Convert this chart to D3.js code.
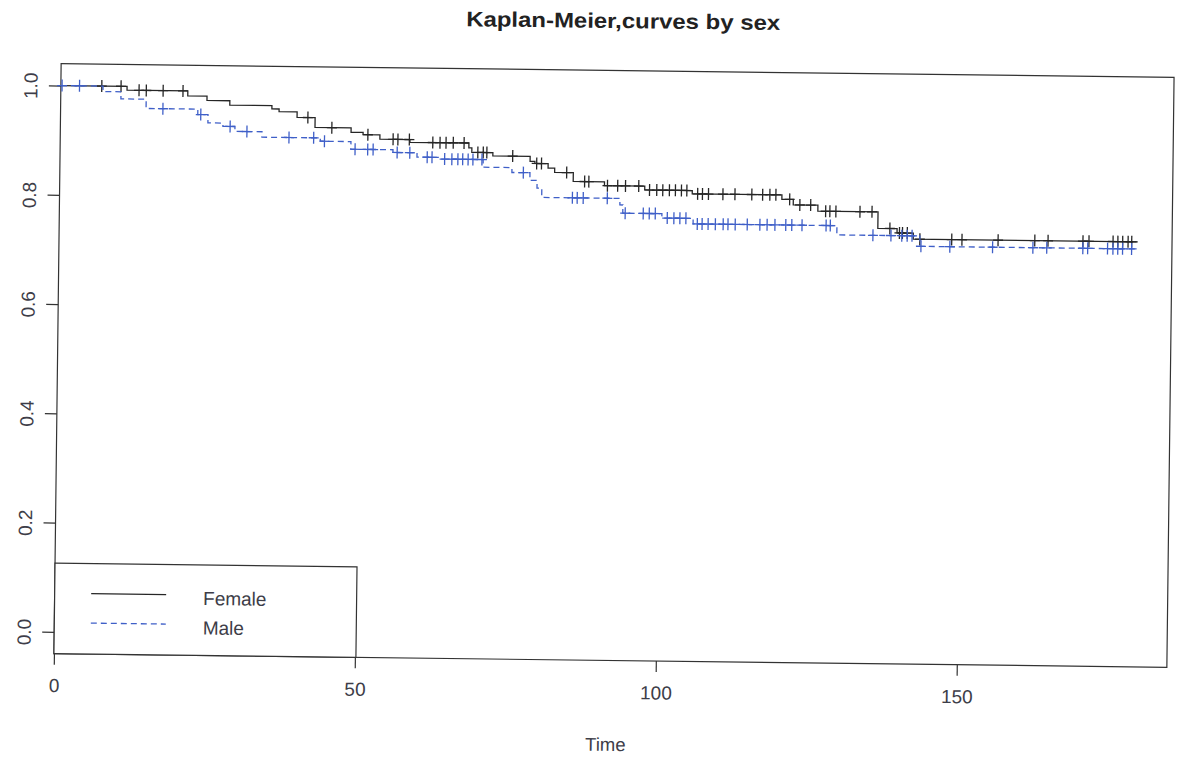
<!DOCTYPE html>
<html>
<head>
<meta charset="utf-8">
<script src="https://cdn.jsdelivr.net/npm/d3@7"></script>
<style>
  html, body { margin: 0; padding: 0; background: #fff; }
  svg { display: block; }
  text { font-family: "Liberation Sans", Arial, sans-serif; }
</style>
</head>
<body>
<div id="chart"></div>
<script>
// ---- data ----
const titleText = "Kaplan-Meier,curves by sex";
const xLabel = "Time";
const xTicks = [0, 50, 100, 150];
const yTicks = [0, 0.2, 0.4, 0.6, 0.8, 1.0];
const groups = ["Female", "Male"];

const femaleStepTime = [0, 11.0, 21.1, 24.3, 28.1, 35.1, 36.3, 39.3, 42.3, 48.3, 50.3, 53.1, 58.1, 67.9, 68.4, 71.9, 78.1, 78.9, 81.1, 82.2, 85.3, 90.5, 97.2, 105.1, 120.0, 121.9, 126.0, 136.0, 139.2, 141.9];
const femaleStepSurv = [1, 0.993, 0.984, 0.976, 0.968, 0.962, 0.957, 0.947, 0.929, 0.921, 0.917, 0.909, 0.904, 0.895, 0.887, 0.881, 0.872, 0.868, 0.860, 0.852, 0.836, 0.829, 0.822, 0.816, 0.808, 0.798, 0.787, 0.757, 0.749, 0.738];
const femaleEnd = 179.2;
const femaleCensor = [6.8, 10.0, 13.0, 14.2, 17.0, 20.3, 41.1, 45.1, 51.1, 55.3, 56.1, 58.0, 61.9, 63.1, 64.1, 65.3, 67.1, 69.4, 70.3, 70.9, 75.2, 79.2, 80.0, 84.2, 87.2, 87.9, 91.0, 92.7, 94.0, 96.2, 98.0, 99.2, 100.2, 101.3, 102.3, 103.3, 104.2, 106.0, 106.8, 107.8, 110.2, 112.2, 115.0, 116.8, 118.0, 119.0, 121.3, 123.0, 124.8, 127.3, 128.0, 129.0, 133.0, 135.0, 138.0, 139.6, 140.1, 140.9, 143.0, 148.3, 150.0, 156.0, 162.1, 164.3, 170.1, 171.1, 175.1, 175.9, 176.7, 177.6, 178.2];

const maleStepTime = [0, 7.0, 10.0, 14.2, 22.8, 24.5, 27.0, 29.0, 33.5, 43.2, 48.3, 55.3, 59.3, 63.1, 70.3, 75.1, 78.1, 79.3, 80.1, 93.1, 93.6, 100.1, 105.3, 129.2, 143.0];
const maleStepSurv = [1, 0.990, 0.977, 0.960, 0.950, 0.935, 0.929, 0.920, 0.910, 0.904, 0.890, 0.885, 0.877, 0.874, 0.860, 0.851, 0.837, 0.823, 0.806, 0.794, 0.779, 0.771, 0.761, 0.744, 0.725];
const maleEnd = 179.1;
const maleCensor = [0.2, 3.1, 17.0, 23.3, 28.2, 31.0, 38.0, 42.1, 43.9, 49.0, 51.1, 52.0, 56.0, 58.1, 61.0, 61.8, 63.9, 65.1, 66.1, 66.9, 67.8, 68.6, 70.1, 77.0, 85.2, 86.0, 87.0, 91.0, 94.0, 97.0, 98.0, 99.0, 101.0, 102.1, 103.1, 104.1, 106.0, 106.8, 107.8, 109.0, 110.3, 111.1, 112.3, 114.3, 116.4, 117.6, 118.9, 120.7, 121.7, 123.4, 127.4, 128.1, 135.2, 138.2, 140.0, 140.9, 141.7, 143.2, 148.0, 155.1, 161.8, 164.1, 170.1, 170.9, 174.2, 175.1, 175.9, 176.7, 178.2];

// ---- layout ----
const W = 1184, H = 763;
const box = { left: 57.5, right: 1170.5, top: 70.5, bottom: 660.5 };
const tilt = 0.7; // scanned page is slightly rotated

const svg = d3.select("#chart").append("svg").attr("width", W).attr("height", H);
svg.append("rect").attr("width", W).attr("height", H).attr("fill", "#fff");
const g = svg.append("g").attr("transform", `rotate(${tilt},614,365)`);

const x = d3.scaleLinear().domain([0, 184.9]).range([box.left, box.right]);
const y = d3.scaleLinear().domain([-0.04, 1.04]).range([box.bottom, box.top]);

const axisColor = "#333";
const textColor = "#3d3d48";

// frame
g.append("rect")
  .attr("x", box.left).attr("y", box.top)
  .attr("width", box.right - box.left).attr("height", box.bottom - box.top)
  .attr("fill", "none").attr("stroke", axisColor).attr("stroke-width", 1.2);

// x axis
const xAxis = d3.axisBottom(x).tickValues(xTicks).tickSize(11).tickPadding(14).tickFormat(d3.format("d"));
const gx = g.append("g").attr("transform", `translate(0,${box.bottom})`).call(xAxis);
gx.select(".domain").remove();
gx.selectAll(".tick line").attr("stroke", axisColor).attr("stroke-width", 1.2);
gx.selectAll(".tick text").attr("fill", textColor).style("font-size", "19px")
  .style("font-family", "'Liberation Sans', Arial, sans-serif");

// y axis
const yAxis = d3.axisLeft(y).tickValues(yTicks).tickSize(12).tickPadding(0).tickFormat(d3.format(".1f"));
const gy = g.append("g").attr("transform", `translate(${box.left},0)`).call(yAxis);
gy.select(".domain").remove();
gy.selectAll(".tick line").attr("stroke", axisColor).attr("stroke-width", 1.2);
gy.selectAll(".tick text")
  .attr("fill", textColor).style("font-size", "19px")
  .style("font-family", "'Liberation Sans', Arial, sans-serif")
  .attr("x", null).attr("dy", null)
  .attr("text-anchor", "middle")
  .attr("dominant-baseline", "central")
  .attr("transform", "translate(-30,0) rotate(-90)");

// title and axis label
g.append("text").attr("x", 619).attr("y", 28).attr("text-anchor", "middle")
  .attr("fill", "#222").style("font-size", "21px").style("font-weight", "bold")
  .attr("textLength", 314).attr("lengthAdjust", "spacingAndGlyphs")
  .text(titleText);
g.append("text").attr("x", (box.left + box.right) / 2 - 4).attr("y", 751).attr("text-anchor", "middle")
  .attr("fill", textColor).style("font-size", "18.5px").text(xLabel);

// curves
const series = [
  { name: groups[0], t: femaleStepTime, s: femaleStepSurv, end: femaleEnd, cens: femaleCensor, color: "#262626", dash: null },
  { name: groups[1], t: maleStepTime, s: maleStepSurv, end: maleEnd, cens: maleCensor, color: "#3f5fc8", dash: "6,4" }
];

const line = d3.line().x(d => x(d[0])).y(d => y(d[1])).curve(d3.curveStepAfter);

series.forEach(sr => {
  const pts = sr.t.map((t, i) => [t, sr.s[i]]);
  pts.push([sr.end, sr.s[sr.s.length - 1]]);
  g.append("path").datum(pts)
    .attr("d", line).attr("fill", "none")
    .attr("stroke", sr.color).attr("stroke-width", 1.3)
    .attr("stroke-dasharray", sr.dash);
  const survAt = t => sr.s[Math.max(0, d3.bisectRight(sr.t, t) - 1)];
  const cg = g.append("g").attr("stroke", sr.color).attr("stroke-width", 1.3);
  sr.cens.forEach(t => {
    const cx = x(t), cy = y(survAt(t));
    cg.append("line").attr("x1", cx).attr("x2", cx).attr("y1", cy - 6).attr("y2", cy + 6);
    cg.append("line").attr("x1", cx - 5).attr("x2", cx + 5).attr("y1", cy).attr("y2", cy);
  });
});

// legend (bottom-left)
const lg = g.append("g");
lg.append("rect").attr("x", box.left).attr("y", 570)
  .attr("width", 302).attr("height", box.bottom - 570)
  .attr("fill", "#fff").attr("stroke", axisColor).attr("stroke-width", 1.2);
series.forEach((sr, i) => {
  const ly = 600 + i * 29.5;
  lg.append("line").attr("x1", 94).attr("x2", 169).attr("y1", ly).attr("y2", ly)
    .attr("stroke", sr.color).attr("stroke-width", 1.3).attr("stroke-dasharray", sr.dash);
  lg.append("text").attr("x", 206).attr("y", ly + 10).attr("fill", textColor)
    .style("font-size", "19px").text(sr.name);
});
</script>
</body>
</html>
